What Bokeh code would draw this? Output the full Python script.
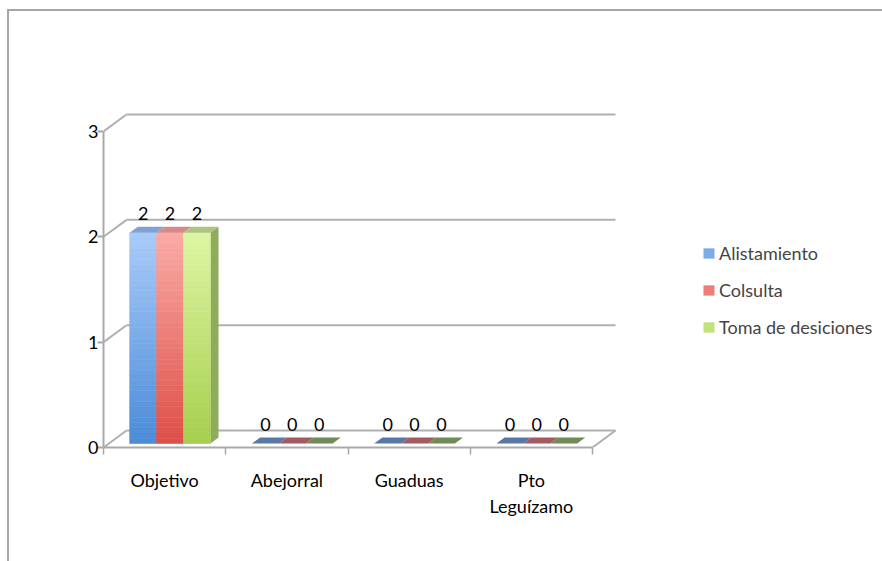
import numpy as np
from bokeh.plotting import figure
from bokeh.models import (Range1d, FixedTicker, ColumnDataSource, Legend,
                          LegendItem)
from bokeh.embed import file_html
from bokeh.resources import INLINE
from bokeh.core.properties import value

# ---------------- data ----------------
categories = ["Objetivo", "Abejorral", "Guaduas", "Pto\nLeguízamo"]
series_names = ["Alistamiento", "Colsulta", "Toma de desiciones"]
alistamiento = [2, 0, 0, 0]
colsulta = [2, 0, 0, 0]
toma_de_desiciones = [2, 0, 0, 0]
y_ticks = [0, 1, 2, 3]

series_values = [alistamiento, colsulta, toma_de_desiciones]

# ---------------- style ----------------
FONT = "Lato"
FS = "18px"
AXIS_COLOR = "#a9a9a9"
DX = 0.188      # wall depth, x units
DY = 0.161      # wall depth, y units
F1, F2 = 0.235, 0.59   # bar front / back depth fractions
GAP = 0.17
BW = 0.22
NB = 40

front_top = ["#aacbf8", "#faaba6", "#ddf5a3"]
front_bot = ["#4a8bd8", "#de4f47", "#a6cf4e"]
top_face = ["#7fa2d3", "#d88888", "#abc47f"]
zero_face = ["#5878a8", "#a45a60", "#6f8c57"]
side_face = ["#8fab5c"]

ncat = len(categories)
# frame spans 103..880 px horizontally; 4 categories occupy 489 px
X_END = ncat * 777 / 489

p = figure(width=882, height=561,
           x_range=Range1d(0, X_END), y_range=Range1d(0, 3.18),
           output_backend="svg", toolbar_location=None,
           min_border_left=103, min_border_right=2,
           min_border_top=112, min_border_bottom=114)
p.xgrid.visible = False
p.ygrid.visible = False
p.outline_line_color = None
p.background_fill_color = "white"
p.border_fill_alpha = 0
p.styles = {
    "background-color": "white",
    "background-image": "linear-gradient(#a6a6a6, #a6a6a6), linear-gradient(#a6a6a6, #a6a6a6)",
    "background-size": "900px 2px, 2px 600px",
    "background-position": "8px 9px, 7px 9px",
    "background-repeat": "no-repeat",
}

# y axis (front)
p.yaxis.ticker = FixedTicker(ticks=y_ticks)
p.yaxis.bounds = (0, 3)
p.yaxis.axis_line_color = AXIS_COLOR
p.yaxis.axis_line_width = 2
p.yaxis.major_tick_line_color = AXIS_COLOR
p.yaxis.major_tick_line_width = 2
p.yaxis.major_tick_out = 6
p.yaxis.major_tick_in = 0
p.yaxis.minor_tick_line_color = None
p.yaxis.major_label_text_font = FONT
p.yaxis.major_label_text_font_size = FS
p.yaxis.major_label_text_color = "black"
p.yaxis.major_label_standoff = -1

# x axis (floor front)
centers = [i + 0.5 for i in range(ncat)]
p.xaxis.ticker = FixedTicker(ticks=centers, minor_ticks=list(range(ncat + 1)))
p.xaxis.bounds = (0, ncat)
p.xaxis.axis_line_color = AXIS_COLOR
p.xaxis.axis_line_width = 2
p.xaxis.major_tick_line_color = None
p.xaxis.minor_tick_line_color = AXIS_COLOR
p.xaxis.minor_tick_line_width = 1.5
p.xaxis.minor_tick_out = 7
p.xaxis.minor_tick_in = 0
p.xaxis.major_label_overrides = {c: lab for c, lab in zip(centers, categories)}
p.xaxis.major_label_text_font = FONT
p.xaxis.major_label_text_font_size = FS
p.xaxis.major_label_text_color = "black"
p.xaxis.major_label_standoff = 14

# back wall gridlines and diagonals
p.segment(x0=[DX] * len(y_ticks), y0=[v + DY for v in y_ticks],
          x1=[ncat + DX] * len(y_ticks), y1=[v + DY for v in y_ticks],
          line_color="#b0b0b0", line_width=2)
p.segment(x0=[0] * len(y_ticks), y0=y_ticks,
          x1=[DX] * len(y_ticks), y1=[v + DY for v in y_ticks],
          line_color="#b0b0b0", line_width=2)
p.segment(x0=[ncat], y0=[0], x1=[ncat + DX], y1=[DY],
          line_color="#b0b0b0", line_width=2)


def mix(c1, c2, t):
    a = np.array([int(c1[i:i + 2], 16) for i in (1, 3, 5)], float)
    b = np.array([int(c2[i:i + 2], 16) for i in (1, 3, 5)], float)
    m = a + (b - a) * t
    return "#%02x%02x%02x" % tuple(int(round(x)) for x in m)


side_xs, side_ys = [], []
front_data = []
top_xs, top_ys, top_c = [], [], []
lab_x, lab_y, lab_t = [], [], []

for s, vals in enumerate(series_values):
    L, R, B, T, C = [], [], [], [], []
    for i, v in enumerate(vals):
        xl = i + GAP + s * BW
        xr = xl + BW
        if v > 0:
            for k in range(NB):
                b0 = v * k / NB
                b1 = v * (k + 1) / NB
                L.append(xl + F1 * DX)
                R.append(xr + F1 * DX)
                B.append(F1 * DY + b0)
                T.append(F1 * DY + b1)
                C.append(mix(front_bot[s], front_top[s], (k + 0.5) / NB))
            if s == len(series_values) - 1:
                side_xs.append([xr + F1 * DX, xr + F2 * DX, xr + F2 * DX, xr + F1 * DX])
                side_ys.append([F1 * DY, F2 * DY, v + F2 * DY, v + F1 * DY])
        top_xs.append([xl + F1 * DX, xr + F1 * DX, xr + F2 * DX, xl + F2 * DX])
        top_ys.append([v + F1 * DY, v + F1 * DY, v + F2 * DY, v + F2 * DY])
        top_c.append(top_face[s] if v > 0 else zero_face[s])
        lab_x.append((xl + xr) / 2 + F1 * DX)
        lab_y.append(v + F1 * DY)
        lab_t.append(str(v))
    front_data.append(dict(left=L, right=R, bottom=B, top=T, color=C))

p.patches(xs=side_xs, ys=side_ys, fill_color=side_face[0], line_color=None)

band_renderers = []
for s, d in enumerate(front_data):
    src = ColumnDataSource(d)
    r = p.quad(left="left", right="right", bottom="bottom", top="top",
               fill_color="color", line_color="color", line_width=0.6,
               source=src)
    band_renderers.append(r)

p.patches(xs=top_xs, ys=top_ys, fill_color=top_c, line_color=None)

p.text(x=lab_x, y=lab_y, text=lab_t, text_align="center",
       text_baseline="middle", y_offset=-19,
       text_font=value(FONT), text_font_size=FS, text_color="black")

# legend (inside the wide frame, right of the chart walls)
items = [LegendItem(label=name, renderers=[band_renderers[s]], index=NB // 2)
         for s, name in enumerate(series_names)]
legend = Legend(items=items, location=(599, 109), orientation="vertical",
                glyph_width=13, glyph_height=12, label_standoff=4,
                spacing=15, padding=0, margin=0, label_height=20,
                label_text_font=FONT, label_text_font_size=FS,
                border_line_color=None, background_fill_alpha=0)
p.add_layout(legend, "center")

with open("out.html", "w") as f:
    f.write(file_html(p, INLINE))
